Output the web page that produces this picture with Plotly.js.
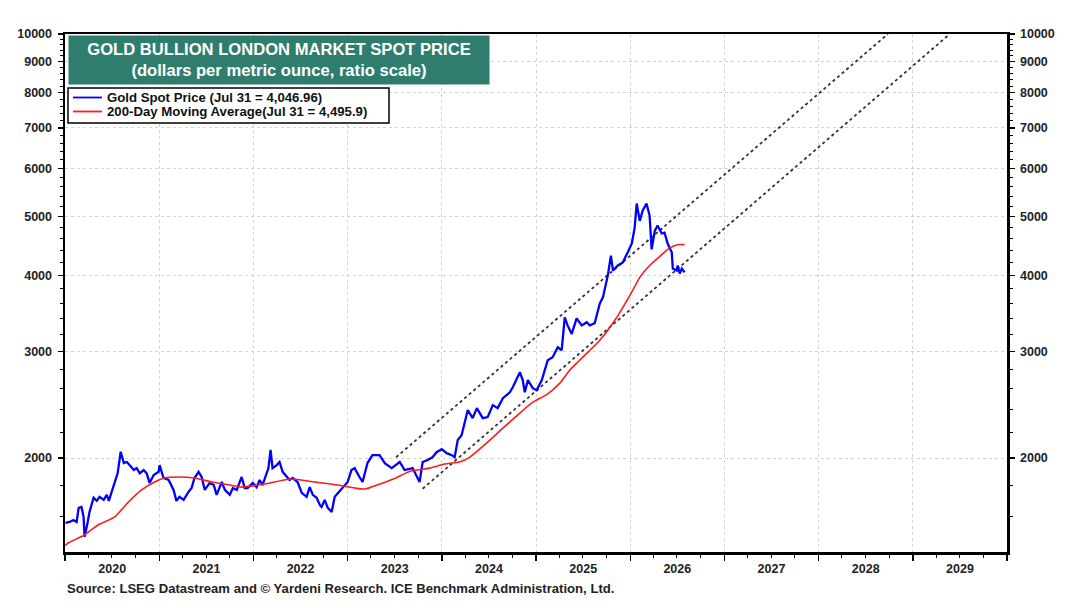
<!DOCTYPE html>
<html>
<head>
<meta charset="utf-8">
<script src="https://cdn.plot.ly/plotly-3.0.1.min.js"></script>
<style>html,body{margin:0;padding:0;background:#fff;}#chart{width:1080px;height:612px;}</style>
</head>
<body>
<div id="chart"></div>
<script>
// ---- Data ----
const goldDates = [
"2020-01-03","2020-01-19","2020-02-03","2020-02-15","2020-02-23","2020-03-05","2020-03-13","2020-03-17","2020-03-29","2020-04-05",
"2020-04-21","2020-05-03","2020-05-14","2020-05-30","2020-06-11","2020-06-19","2020-06-30","2020-07-12","2020-07-23","2020-08-04",
"2020-08-16","2020-08-28","2020-09-08","2020-09-24","2020-10-05","2020-10-17","2020-11-01","2020-11-13","2020-11-24","2020-12-10",
"2020-12-29","2021-01-02","2021-01-17","2021-02-06","2021-02-25","2021-03-08","2021-03-20","2021-04-05","2021-04-24","2021-05-06",
"2021-05-17","2021-06-02","2021-06-14","2021-06-26","2021-07-15","2021-07-31","2021-08-11","2021-08-23","2021-08-31","2021-09-12",
"2021-10-01","2021-10-13","2021-10-28","2021-11-16","2021-11-28","2021-12-09","2021-12-29","2022-01-13","2022-01-25","2022-02-05",
"2022-02-21","2022-02-28","2022-03-08","2022-03-16","2022-04-01","2022-04-12","2022-04-24","2022-05-10","2022-05-21","2022-06-02",
"2022-06-21","2022-07-07","2022-07-26","2022-08-07","2022-08-19","2022-09-03","2022-09-15","2022-09-22","2022-10-04","2022-10-16",
"2022-10-31","2022-11-12","2022-11-28","2022-12-13","2023-01-01","2023-01-16","2023-01-28","2023-02-16","2023-02-28","2023-03-19",
"2023-04-07","2023-05-05","2023-05-25","2023-06-21","2023-07-22","2023-08-10","2023-09-10","2023-10-07","2023-10-19","2023-11-07",
"2023-11-26","2023-12-12","2024-01-01","2024-01-20","2024-02-09","2024-02-20","2024-03-03","2024-03-18","2024-04-11","2024-04-30",
"2024-05-16","2024-06-08","2024-06-27","2024-07-17","2024-08-05","2024-08-25","2024-09-21","2024-10-03","2024-10-30","2024-11-10",
"2024-11-18","2024-11-30","2024-12-19","2025-01-03","2025-01-23","2025-02-15","2025-03-06","2025-03-26","2025-04-10","2025-04-16",
"2025-04-22","2025-05-03","2025-05-19","2025-06-07","2025-06-27","2025-07-16","2025-07-28","2025-08-16","2025-09-05","2025-09-17",
"2025-10-06","2025-10-18","2025-10-26","2025-11-14","2025-12-03","2025-12-22","2026-01-07","2026-01-18","2026-01-26","2026-02-07",
"2026-02-18","2026-03-05","2026-03-17","2026-03-25","2026-04-06","2026-04-17","2026-05-03","2026-05-14","2026-05-26","2026-06-11",
"2026-06-15","2026-06-30","2026-07-04","2026-07-12","2026-07-20","2026-07-31"
];
const goldValues = [
1563,1569,1581,1569,1655,1661,1600,1483,1569,1630,
1720,1700,1726,1706,1739,1700,1759,1820,1887,2048,
1962,1970,1947,1911,1925,1887,1911,1887,1820,1875,
1898,1947,1854,1840,1772,1700,1726,1706,1759,1785,
1854,1898,1861,1772,1820,1805,1739,1800,1826,1772,
1739,1785,1772,1861,1785,1785,1820,1791,1840,1805,
1887,1925,2062,1925,1947,1970,1898,1861,1840,1854,
1826,1752,1726,1791,1739,1720,1674,1661,1706,1655,
1630,1726,1759,1791,1826,1911,1925,1861,1826,1962,
2022,2022,1962,1925,1970,1911,1925,1826,1970,1985,
2006,2045,2068,2037,2022,2006,2141,2180,2399,2327,
2417,2327,2336,2445,2417,2510,2567,2619,2770,2688,
2567,2688,2607,2587,2688,2899,2932,3045,3011,3203,
3412,3309,3203,3398,3309,3349,3309,3336,3596,3680,
4000,4313,4075,4153,4200,4365,4515,4790,5255,4920,
5115,5255,5020,4415,4735,4833,4690,4705,4515,4365,
4105,4075,4153,4030,4105,4047
];

const maDates = [
"2020-01-01","2020-01-15","2020-03-17","2020-05-08","2020-07-12","2020-09-04","2020-10-24","2020-12-14","2021-01-21","2021-03-17",
"2021-05-17","2021-07-23","2021-10-01","2021-11-16","2022-02-13","2022-05-28","2022-08-26","2022-11-24","2023-01-28","2023-03-08",
"2023-04-03","2023-07-02","2023-08-29","2023-11-14","2024-01-12","2024-03-10","2024-04-18","2024-06-23","2024-08-25","2024-10-30",
"2024-12-19","2025-02-11","2025-04-03","2025-05-11","2025-06-19","2025-09-05","2025-11-10","2026-01-11","2026-02-07","2026-03-17",
"2026-04-26","2026-06-03","2026-07-04","2026-07-31"
];
const maValues = [
1435,1450,1494,1551,1600,1694,1772,1826,1854,1861,
1854,1826,1805,1791,1812,1847,1826,1805,1785,1778,
1791,1850,1900,1925,1955,1970,2005,2117,2240,2372,
2472,2545,2658,2791,2899,3127,3412,3783,3970,4153,
4300,4440,4495,4496
];

// Trend channel (dotted lines), end points
const upperChannelDates = ["2023-07-08","2028-09-26"];
const upperChannelValues = [2006,10000];
const lowerChannelDates = ["2023-10-19","2029-05-24"];
const lowerChannelValues = [1780,10000];

const yTickVals = [2000,3000,4000,5000,6000,7000,8000,9000,10000];
const yTickText = ["2000","3000","4000","5000","6000","7000","8000","9000","10000"];
const yMinorTickVals = [1600,1800,2200,2400,2600,2800,3200,3400,3600,3800,4200,4400,4600,4800,
  5200,5400,5600,5800,6200,6400,6600,6800,7200,7400,7600,7800,8200,8400,8600,8800,9200,9400,9600,9800];

const goldName = "Gold Spot Price (Jul 31 = 4,046.96)";
const maName = "200-Day Moving Average(Jul 31 = 4,495.9)";
const titleLine1 = "GOLD BULLION LONDON MARKET SPOT PRICE";
const titleLine2 = "(dollars per metric ounce, ratio scale)";
const sourceText = "Source: LSEG Datastream and © Yardeni Research. ICE Benchmark Administration, Ltd.";

// ---- Chart ----
const FONT = "Liberation Sans, Arial, Helvetica, sans-serif";
const BLUE = "#0000ff", RED = "#ff1a1a";
const yRange = [Math.log10(1400), 4];

const traces = [
  {x: upperChannelDates, y: upperChannelValues, type: "scatter", mode: "lines",
   line: {color: "#333", width: 1.8, dash: "dot"}, showlegend: false, hoverinfo: "skip"},
  {x: lowerChannelDates, y: lowerChannelValues, type: "scatter", mode: "lines",
   line: {color: "#333", width: 1.8, dash: "dot"}, showlegend: false, hoverinfo: "skip"},
  {x: goldDates, y: goldValues, type: "scatter", mode: "lines", name: goldName,
   line: {color: BLUE, width: 2.3}, showlegend: false},
  {x: maDates, y: maValues, type: "scatter", mode: "lines", name: maName,
   line: {color: RED, width: 1.6, shape: "spline", smoothing: 0.6}, showlegend: false},
  {x: [goldDates[0]], y: [goldValues[0]], yaxis: "y2", type: "scatter", mode: "markers",
   marker: {opacity: 0}, showlegend: false, hoverinfo: "skip"}
];

const tickFont = {family: FONT, size: 12.5, color: "#222", weight: "bold"};
const yBase = {
  type: "log", range: yRange, tickmode: "array", tickvals: yTickVals, ticktext: yTickText,
  ticks: "outside", ticklen: 5, tickwidth: 1.2, tickcolor: "#000", ticklabelstandoff: 3,
  showline: true, linecolor: "#000", linewidth: 2.5,
  tickfont: tickFont, zeroline: false,
  minor: {tickmode: "array", tickvals: yMinorTickVals, ticks: "outside", ticklen: 3, tickwidth: 1, tickcolor: "#000", showgrid: false}
};

// paper-coordinate helpers for the hand-drawn legend box
const px2x = p => (p - 65) / 942;
const px2y = p => (552 - p) / 518;

const layout = {
  width: 1080, height: 612,
  paper_bgcolor: "#fff", plot_bgcolor: "#fff",
  margin: {l: 65, r: 73, t: 34, b: 60, pad: 0},
  showlegend: false,
  xaxis: {
    type: "date", range: ["2020-01-01", "2030-01-01"],
    tickmode: "linear", tick0: "2020-01-01", dtick: "M12", tickformat: "%Y", ticklabelmode: "period",
    ticks: "outside", ticklen: 6, tickwidth: 1.5, tickcolor: "#000", ticklabelstandoff: -3,
    showline: true, linecolor: "#000", linewidth: 2.5, mirror: true,
    showgrid: true, gridcolor: "#d2d2d2", gridwidth: 1, griddash: "dot",
    tickfont: tickFont, zeroline: false,
    minor: {tick0: "2020-01-01", dtick: "M3", ticks: "outside", ticklen: 3, tickwidth: 1, tickcolor: "#000", showgrid: false}
  },
  yaxis: Object.assign({}, yBase, {side: "left", mirror: true,
    showgrid: true, gridcolor: "#d2d2d2", gridwidth: 1, griddash: "dot"}),
  yaxis2: Object.assign({}, yBase, {side: "right", overlaying: "y", anchor: "x", showgrid: false}),
  shapes: [
    {type: "rect", xref: "paper", yref: "paper", x0: px2x(68), x1: px2x(389), y0: px2y(123), y1: px2y(88),
     line: {color: "#000", width: 1.5}, fillcolor: "#fff", layer: "above"},
    {type: "line", xref: "paper", yref: "paper", x0: px2x(73), x1: px2x(102), y0: px2y(97.5), y1: px2y(97.5),
     line: {color: BLUE, width: 1.8}, layer: "above"},
    {type: "line", xref: "paper", yref: "paper", x0: px2x(73), x1: px2x(102), y0: px2y(111.5), y1: px2y(111.5),
     line: {color: RED, width: 1.8}, layer: "above"}
  ],
  annotations: [
    {xref: "paper", yref: "paper", x: px2x(68), y: px2y(35), xanchor: "left", yanchor: "top",
     text: "<b>" + titleLine1 + "</b><br><b>" + titleLine2 + "</b>",
     font: {family: FONT, size: 16.6, color: "#fff"}, bgcolor: "#2f7d6d",
     width: 418, height: 46, align: "center", valign: "middle", borderpad: 1, showarrow: false},
    {xref: "paper", yref: "paper", x: px2x(105), y: px2y(97.5), xanchor: "left", yanchor: "middle",
     text: "<b>" + goldName + "</b>", font: {family: FONT, size: 13.2, color: "#111"}, showarrow: false},
    {xref: "paper", yref: "paper", x: px2x(105), y: px2y(111.5), xanchor: "left", yanchor: "middle",
     text: "<b>" + maName + "</b>", font: {family: FONT, size: 13.2, color: "#111"}, showarrow: false},
    {xref: "paper", yref: "paper", x: px2x(65), y: px2y(588), xanchor: "left", yanchor: "middle",
     text: "<b>" + sourceText + "</b>",
     font: {family: FONT, size: 13.1, color: "#222"}, showarrow: false}
  ]
};

Plotly.newPlot("chart", traces, layout, {displayModeBar: false, staticPlot: true});
</script>
</body>
</html>
